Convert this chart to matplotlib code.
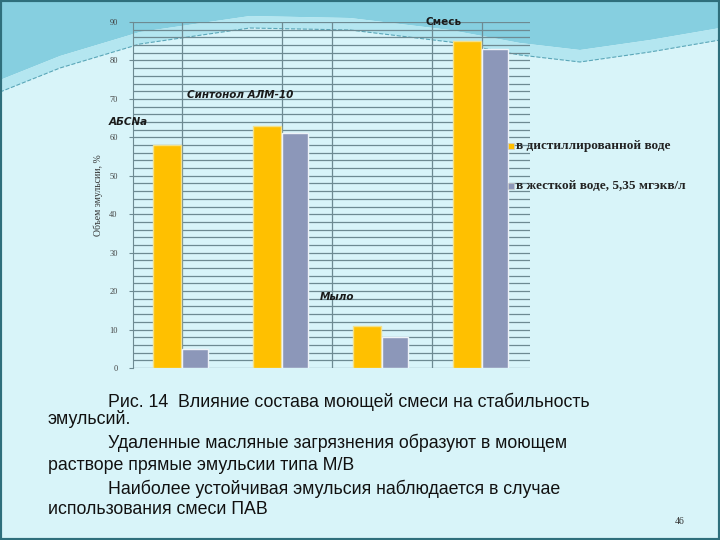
import numpy as np
import matplotlib.pyplot as plt
from matplotlib.patches import Polygon, Rectangle

# values (объем эмульсии, %)
groups = ['АБСNa', 'Синтонол АЛМ-10', 'Мыло', 'Смесь']
distilled = [58, 63, 11, 85]
hard_water = [5, 61, 8, 83]
series_names = ['в дистиллированной воде', 'в жесткой воде, 5,35 мгэкв/л']
y_ticks = [0, 10, 20, 30, 40, 50, 60, 70, 80, 90]

caption = [
    ('Рис. 14  Влияние состава моющей смеси на стабильность', True),
    ('эмульсий.', False),
    ('Удаленные масляные загрязнения образуют в моющем', True),
    ('растворе прямые эмульсии типа М/В', False),
    ('Наиболее устойчивая эмульсия наблюдается в случае', True),
    ('использования смеси ПАВ', False),
]

W, H = 720, 540
fig = plt.figure(figsize=(7.2, 5.4), dpi=100)
fig.patch.set_facecolor('#d8f4f9')

# --- slide decoration: blue wave at the top (behind the chart) ---
def px(pts):
    return [(x / W, 1 - y / H) for x, y in pts]

wave = [(0, 80), (60, 56), (140, 32), (250, 16), (350, 18), (450, 30),
        (520, 43), (580, 50), (650, 40), (720, 28)]
fig.patches.append(Polygon(px([(0, 0)] + wave + [(720, 0)]), closed=True,
                           transform=fig.transFigure, facecolor='#86cfe0',
                           edgecolor='none', zorder=-5))
light = [(x, y + 12) for x, y in wave]
fig.patches.append(Polygon(px(wave + light[::-1]), closed=True,
                           transform=fig.transFigure, facecolor='#b4e6f0',
                           edgecolor='none', zorder=-5))
fig.lines.append(plt.Line2D([p[0] for p in px(light)], [p[1] for p in px(light)],
                            transform=fig.transFigure, color='#5aa6b8', lw=0.8,
                            ls='--', zorder=-4))
fig.patches.append(Rectangle((0, 0), 1, 1, transform=fig.transFigure, fill=False,
                             edgecolor='#2f6f7c', lw=3, zorder=10))

# --- chart ---
ax = fig.add_axes([133 / W, 1 - 368 / H, (530 - 133) / W, 346 / H])
ax.patch.set_visible(False)

x = np.arange(len(groups))
ax.bar(x - 0.15, distilled, width=0.28, color='#ffc000', edgecolor='#f3e08a',
       linewidth=1.0, zorder=3)
ax.bar(x + 0.13, hard_water, width=0.26, color='#8c97b9', edgecolor='#eef3f8',
       linewidth=1.0, zorder=3)

ax.set_xlim(-0.49, 3.48)
ax.set_ylim(0, 90)
for yv in np.arange(0, 91, 2):
    ax.axhline(yv, color='#6d8a92', lw=0.9, zorder=1)
for xv in [0, 1, 1.5, 2.5, 3]:
    ax.axvline(xv, color='#6d8a92', lw=0.9, zorder=1)

ax.set_xticks([])
ax.set_yticks(y_ticks)
ax.set_yticklabels([str(v) for v in y_ticks], fontsize=6, family='Liberation Serif',
                   color='#444444')
ax.tick_params(axis='y', length=3, color='#6d8a92', pad=8)
for s in ['top', 'right', 'bottom']:
    ax.spines[s].set_visible(False)
ax.spines['left'].set_color('#6d8a92')

ax.set_ylabel('Объем эмульсии, %', fontsize=7, family='Liberation Serif',
              color='#333333', labelpad=6)
ax.yaxis.set_label_coords(-0.075, 0.5)

# group names near their bars
label_pos = [(-0.54, 64), (0.58, 71), (1.55, 18.5), (2.62, 90)]
for name, (lx, ly) in zip(groups, label_pos):
    ax.text(lx, ly, name, ha='center', va='center', fontsize=7.5,
            fontweight='bold', style='italic' if name != 'Смесь' else 'normal',
            color='#1a1a1a', clip_on=False, zorder=5)

# legend
leg_colors = ['#ffc000', '#8c97b9']
for i, (nm, c) in enumerate(zip(series_names, leg_colors)):
    yy = 1 - (146 + 40 * i) / H
    fig.patches.append(Rectangle((508 / W, yy - 3 / H), 6 / W, 6 / H,
                                 transform=fig.transFigure, facecolor=c,
                                 edgecolor='#cccccc', lw=0.5, zorder=6))
    fig.text(516 / W, yy, nm, fontsize=9.5, fontweight='bold',
             family='Liberation Serif', color='#222222', va='center', ha='left')

# caption
ys = [402, 419, 443, 466, 489, 510]
for (line, indent), yy in zip(caption, ys):
    fig.text((108 if indent else 48) / W, 1 - yy / H, line, fontsize=12.8,
             family='Liberation Sans', color='#111111', va='center', ha='left')
fig.text(675 / W, 1 - 522 / H, '46', fontsize=7, family='Liberation Serif',
         color='#333333', va='center')

plt.savefig('out.png', dpi=100, facecolor=fig.get_facecolor())
